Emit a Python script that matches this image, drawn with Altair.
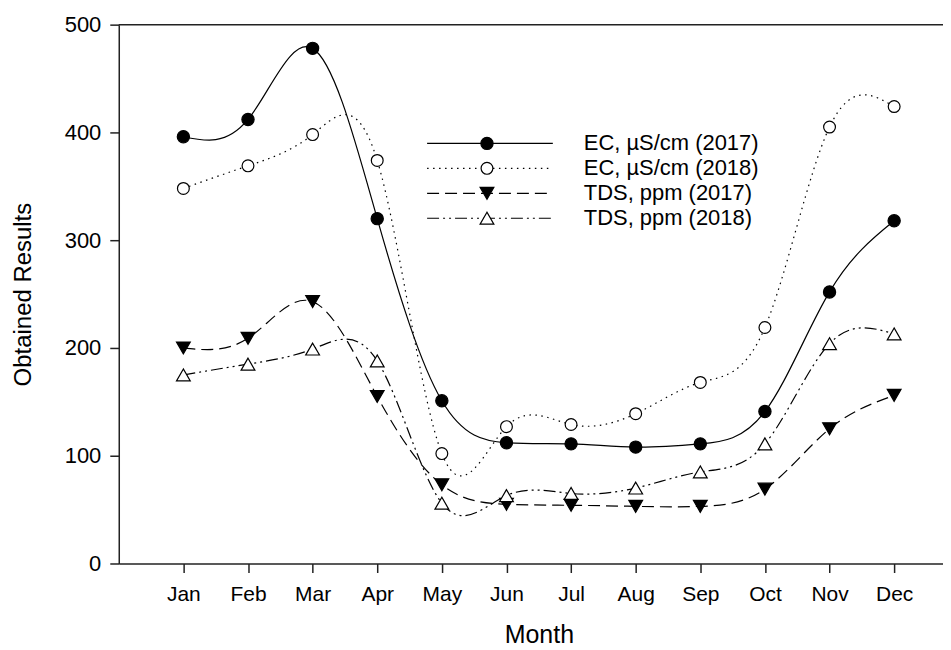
import altair as alt
import pandas as pd

months = ["Jan", "Feb", "Mar", "Apr", "May", "Jun", "Jul", "Aug", "Sep", "Oct", "Nov", "Dec"]
ec_2017 = [396, 412, 478, 320, 151, 112, 111, 108, 111, 141, 252, 318]
ec_2018 = [348, 369, 398, 374, 102, 127, 129, 139, 168, 219, 405, 424]
tds_2017 = [200, 209, 243, 155, 73, 55, 54, 53, 53, 69, 125, 156]
tds_2018 = [175, 185, 199, 188, 56, 63, 65, 70, 85, 111, 204, 213]
series_names = ["EC, µS/cm (2017)", "EC, µS/cm (2018)", "TDS, ppm (2017)", "TDS, ppm (2018)"]
series_values = [ec_2017, ec_2018, tds_2017, tds_2018]

FONT = "Liberation Sans"
W, H = 826, 540

styles = [
    dict(dash=None, shape="circle", size=150, fill="black"),
    dict(dash=[1.5, 4.5], shape="circle", size=140, fill="white"),
    dict(dash=[12, 6], shape="triangle-down", size=190, fill="black"),
    dict(dash=[12, 4, 2, 4, 2, 4], shape="triangle-up", size=190, fill="white"),
]

month_idx = list(range(1, 13))
label_expr = "[" + ",".join("'%s'" % m for m in months) + "][datum.value - 1]"

x_enc = alt.X(
    "m:Q",
    scale=alt.Scale(domain=[0, 12.756], nice=False, zero=False),
    axis=alt.Axis(
        values=month_idx, labelExpr=label_expr, title="Month", grid=False,
        tickSize=9, labelPadding=11, labelFontSize=21, titleFontSize=25,
        titleFontWeight="normal", titleFont=FONT, labelFont=FONT,
        titleX=421, titleY=71, titleBaseline="middle", titleAlign="center",
    ),
)
y_enc = alt.Y(
    "v:Q",
    scale=alt.Scale(domain=[0, 500], nice=False),
    axis=alt.Axis(
        values=[0, 100, 200, 300, 400, 500], title="Obtained Results", grid=False,
        tickSize=9, labelPadding=9, labelFontSize=22, titleFontSize=24,
        titleFontWeight="normal", titleFont=FONT, labelFont=FONT,
        titleX=-95, titleY=H / 2, titleAngle=-90, titleBaseline="middle",
        titleAlign="center",
    ),
)

layers = []
for name, vals, st in zip(series_names, series_values, styles):
    df = pd.DataFrame({"m": month_idx, "v": vals})
    line_kw = dict(interpolate="natural", color="black", strokeWidth=1.2)
    if st["dash"]:
        line_kw["strokeDash"] = st["dash"]
    layers.append(alt.Chart(df).mark_line(**line_kw).encode(x=x_enc, y=y_enc))

for name, vals, st in zip(series_names, series_values, styles):
    df = pd.DataFrame({"m": month_idx, "v": vals})
    layers.append(
        alt.Chart(df).mark_point(
            shape=st["shape"], size=st["size"], filled=True, fill=st["fill"],
            stroke="black", strokeWidth=1.2, opacity=1,
        ).encode(x=x_enc, y=y_enc)
    )

one = pd.DataFrame({"a": [0]})
# top frame line
layers.append(alt.Chart(one).mark_rule(color="#222", strokeWidth=1.5).encode(y=alt.datum(500)))

# custom legend
leg_x0, leg_x1, leg_xm, leg_tx = 309, 435, 369, 466
leg_y0, leg_dy = 119, 25
for i, (name, st) in enumerate(zip(series_names, styles)):
    ry = leg_y0 + i * leg_dy
    rk = dict(color="black", strokeWidth=1.2)
    if st["dash"]:
        rk["strokeDash"] = st["dash"]
    layers.append(alt.Chart(one).mark_rule(**rk).encode(
        x=alt.value(leg_x0), x2=alt.value(leg_x1), y=alt.value(ry)))
    layers.append(alt.Chart(one).mark_point(
        shape=st["shape"], size=st["size"], filled=True, fill=st["fill"],
        stroke="black", strokeWidth=1.2, opacity=1,
    ).encode(x=alt.value(leg_xm), y=alt.value(ry)))
    layers.append(alt.Chart(one).mark_text(
        align="left", baseline="middle", fontSize=22, font=FONT, color="black",
    ).encode(x=alt.value(leg_tx), y=alt.value(ry), text=alt.value(name)))

chart = alt.layer(*layers).properties(
    width=W, height=H, autosize="none", background="white",
    padding={"left": 111, "top": 16, "right": 0, "bottom": 84},
).configure_view(stroke=None).configure_axis(
    domainColor="#222", domainWidth=1.5, tickColor="#222", tickWidth=1.5,
    labelColor="black", titleColor="black", labelFont=FONT, titleFont=FONT,
    titleFontWeight="normal",
)

chart.save("out.html", embed_options={"renderer": "svg", "actions": False})
